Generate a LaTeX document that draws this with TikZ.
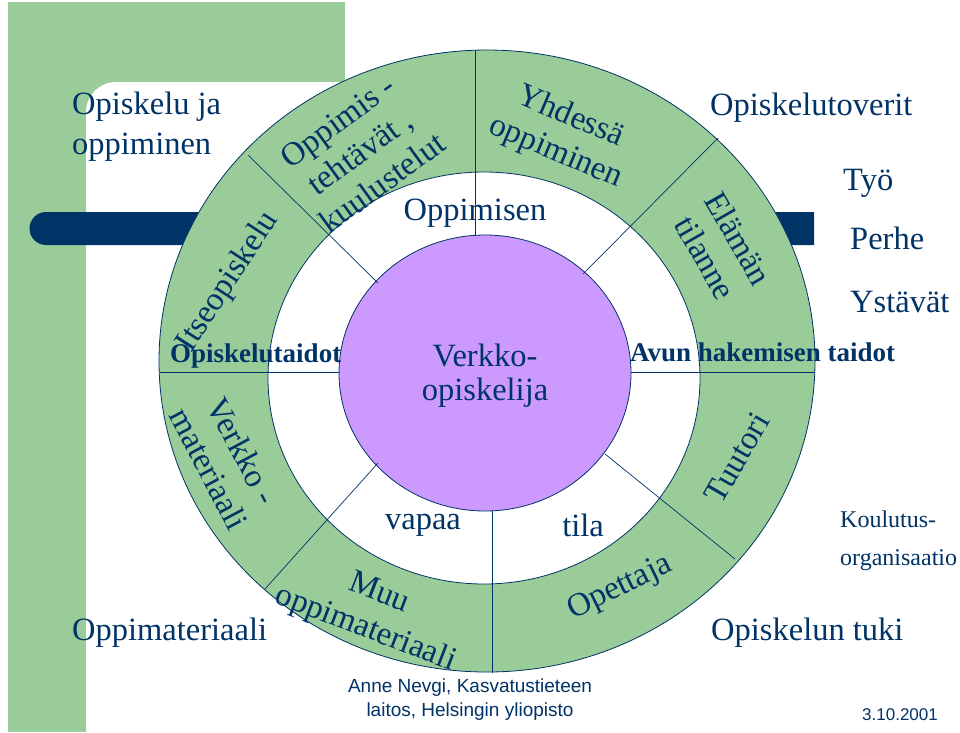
\documentclass[tikz,border=0pt]{standalone}
\usepackage{fontspec}
\usetikzlibrary{shapes.geometric}
\setmainfont{Liberation Serif}
\newfontfamily\credfont{Liberation Sans}
\definecolor{grn}{HTML}{99CC99}
\definecolor{navy}{HTML}{003366}
\definecolor{purp}{HTML}{CC99FF}
\tikzset{
  lbl/.style={text=navy,font=\fontsize{32.5}{34}\selectfont,align=center,inner sep=0pt},
  ringlbl/.style={lbl,font=\fontsize{33}{38}\selectfont},
  boldlbl/.style={text=navy,font=\bfseries\fontsize{27}{28}\selectfont,inner sep=0pt},
  divline/.style={draw=navy,line width=0.7pt}
}
\begin{document}
\begin{tikzpicture}[x=1pt,y=-1pt]
\useasboundingbox (0,0) rectangle (960,732);
\fill[white] (0,0) rectangle (960,732);
% background
\fill[grn] (8,2) rectangle (345,732);
\fill[white] (86,732) -- (86,112) arc[start angle=180,end angle=270,radius=30] -- (960,82) -- (960,732) -- cycle;
\fill[navy] (46,212) arc[start angle=270,end angle=90,radius=16.5] -- (814,245) -- (814,212) -- cycle;
% rings
\path[fill=grn,draw=navy,line width=0.8pt] (487,361) ellipse[x radius=328,y radius=311];
\path[fill=white,draw=navy,line width=0.8pt] (484,378) ellipse[x radius=216,y radius=206];
\node[draw=navy,line width=0.8pt,fill=purp,ellipse,minimum width=292pt,minimum height=276pt,inner sep=0pt] (core) at (485,373) {};
% dividers
\coordinate (t1) at (475,50); \coordinate (t2) at (475,236);
\coordinate (a1) at (248,155); \coordinate (a2) at (378,283);
\coordinate (b1) at (718,138); \coordinate (b2) at (583,274);
\coordinate (c1) at (265,589); \coordinate (c2) at (378,463);
\coordinate (d1) at (605,454); \coordinate (d2) at (735,559);
\coordinate (e1) at (492,511); \coordinate (e2) at (492,673);
\coordinate (h1) at (160,372); \coordinate (h2) at (340,372);
\coordinate (h3) at (631,372); \coordinate (h4) at (815,372);
\foreach \p/\q in {t1/t2,a1/a2,b1/b2,c1/c2,d1/d2,e1/e2,h1/h2,h3/h4}
  \draw[divline] (\p) -- (\q);
% ring labels
\node[ringlbl,rotate=36] (l1) at (360,152) {Oppimis -\\tehtävät ,\\kuulustelut};
\node[ringlbl,rotate=-23] (l2) at (563,135) {Yhdessä\\oppiminen};
\node[ringlbl,rotate=-60] (l3) at (722,248) {Elämän\\tilanne};
\node[ringlbl,rotate=57] (l4) at (228,282) {Itseopiskelu};
\node[ringlbl,rotate=-62] (l5) at (226,460) {Verkko -\\materiaali};
\node[ringlbl,rotate=-21] (l6) at (372,612) {Muu\\oppimateriaali};
\node[ringlbl,rotate=26] (l7) at (620,588) {Opettaja};
\node[ringlbl,rotate=60] (l8) at (737,458) {Tuutori};
% inner labels
\node[lbl] (n1) at (475,213) {Oppimisen};
\node[lbl] (n2) at (485,376) {Verkko-\\opiskelija};
\node[lbl] (n3) at (423,525) {vapaa};
\node[lbl] (n4) at (583,525) {tila};
% outer labels
\node[lbl,align=left,anchor=west,font=\fontsize{32.5}{40}\selectfont] (o1) at (72,127) {Opiskelu ja\\oppiminen};
\node[lbl,anchor=west] (o2) at (710,108) {Opiskelutoverit};
\node[lbl,anchor=west] (o3) at (843,183) {Työ};
\node[lbl,anchor=west] (o4) at (850,238) {Perhe};
\node[lbl,anchor=west] (o5) at (850,302) {Ystävät};
\node[boldlbl,anchor=west] (o6) at (170,356) {Opiskelutaidot};
\node[boldlbl,anchor=west] (o7) at (630,352) {Avun hakemisen taidot};
\node[lbl,font=\fontsize{24}{38}\selectfont,align=left,anchor=west] (o8) at (840,541) {Koulutus-\\organisaatio};
\node[lbl,anchor=west] (o9) at (72,633) {Oppimateriaali};
\node[lbl,anchor=west] (o10) at (711,633) {Opiskelun tuki};
\node[text=navy,font=\credfont\fontsize{19}{24}\selectfont,align=center] (cr) at (470,700) {Anne Nevgi, Kasvatustieteen\\laitos, Helsingin yliopisto};
\node[text=navy,font=\credfont\fontsize{17}{20}\selectfont] (dt) at (900,715) {3.10.2001};
\end{tikzpicture}
\end{document}
